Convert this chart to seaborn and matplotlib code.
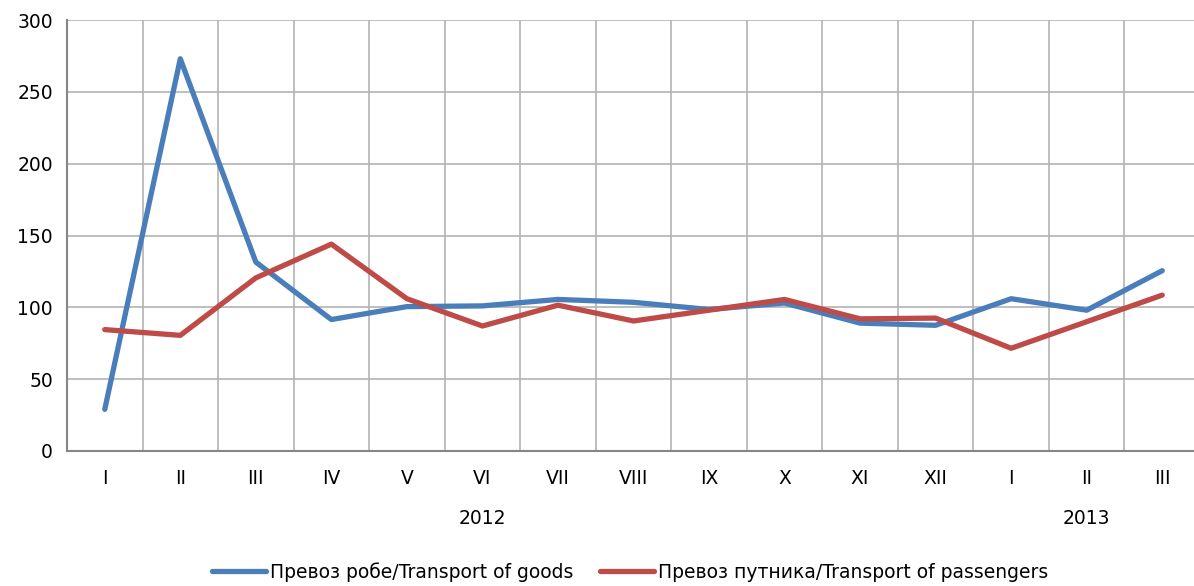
import matplotlib
matplotlib.use("Agg")
import matplotlib.pyplot as plt
import numpy as np
import pandas as pd
import seaborn as sns

# -----------------------------
# Dados
# -----------------------------
meses = ["I", "II", "III", "IV", "V", "VI", "VII", "VIII", "IX", "X", "XI", "XII",
         "I", "II", "III"]
anos = ["2012", "2013"]
anos_pos = [5, 13]

robe = [29, 273, 131.5, 91.5, 100.5, 101, 105.5, 103.5, 98.5, 103, 89, 87.5,
        106, 98, 125.5]
putnika = [84.5, 80.5, 120.5, 144, 106, 87, 101.5, 90.5, 98, 105.5, 92, 92.5,
           71.5, 90, 108.5]

serie_robe = "Превоз робе/Transport of goods"
serie_putnika = "Превоз путника/Transport of passengers"

df = pd.DataFrame({
    "idx": list(range(len(meses))) * 2,
    "valor": robe + putnika,
    "serie": [serie_robe] * len(meses) + [serie_putnika] * len(meses),
})

sns.set_style("white")
plt.rcParams["font.family"] = ["DejaVu Sans"]
plt.rcParams["text.color"] = "black"

fig = plt.figure(figsize=(11.94, 5.86), dpi=100)
ax = fig.add_axes([67 / 1194, 135 / 586, 1133 / 1194, 431 / 586])

sns.lineplot(data=df, x="idx", y="valor", hue="serie",
             palette={serie_robe: "#4a7ebb", serie_putnika: "#be4b48"},
             linewidth=3.8, ax=ax, legend=False, sort=False)

n = len(meses)
ax.set_xlim(-0.5, n - 0.5)
ax.set_ylim(0, 300)
ax.set_yticks(np.arange(0, 301, 50))
ax.set_xticks(range(n))
ax.set_xticklabels(meses)
ax.set_xlabel("")
ax.set_ylabel("")

# grade: horizontais em 50, verticais entre categorias
for v in np.arange(50, 301, 50):
    ax.axhline(v, color="#b3b3b3", lw=1.2, zorder=0)
for b in np.arange(0.5, n - 0.5, 1):
    ax.axvline(b, color="#b3b3b3", lw=1.2, zorder=0)

for s in ["top", "right"]:
    ax.spines[s].set_visible(False)
for s in ["left", "bottom"]:
    ax.spines[s].set_color("#868686")
    ax.spines[s].set_linewidth(1.5)

fs = 13.5
ax.tick_params(axis="both", length=0, labelsize=fs, colors="black")
ax.tick_params(axis="x", pad=13)
ax.tick_params(axis="y", pad=10)

for a, p in zip(anos, anos_pos):
    ax.text(p, -47, a, ha="center", va="center", fontsize=fs, color="black")

handles = [plt.Line2D([], [], color="#4a7ebb", lw=3.8),
           plt.Line2D([], [], color="#be4b48", lw=3.8)]
leg = fig.legend(handles, [serie_robe, serie_putnika], loc="center",
                 bbox_to_anchor=(630 / 1194, 1 - 572 / 586), ncol=2, frameon=False,
                 fontsize=fs, handlelength=2.9, handletextpad=0.2, columnspacing=1.4)
for t in leg.get_texts():
    t.set_color("black")

fig.savefig("out.png", dpi=100)
